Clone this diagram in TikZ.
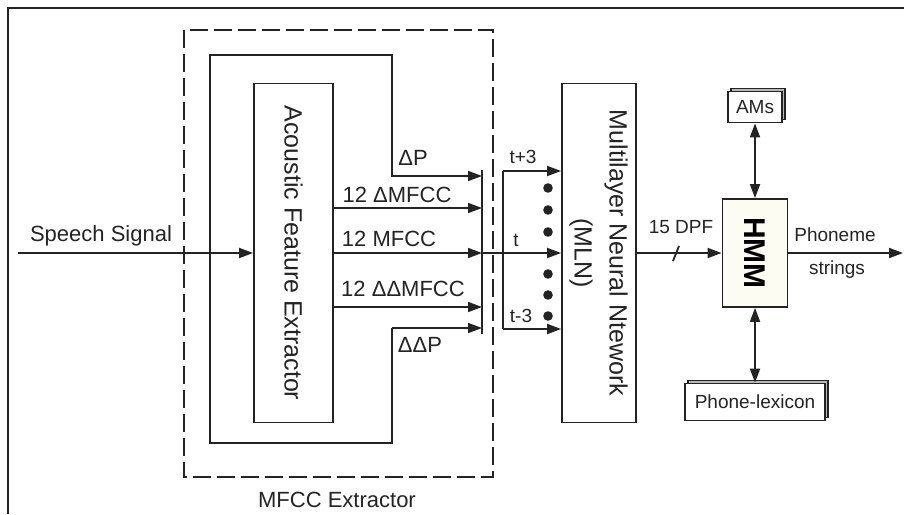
\documentclass[tikz,border=0pt]{standalone}
\usepackage{fontspec}
\setmainfont{Liberation Sans}
\usepackage{graphicx}
\usetikzlibrary{arrows.meta,shadows}
\definecolor{ink}{RGB}{35,35,35}
\definecolor{hmmfill}{RGB}{252,252,243}
\tikzset{
  arr/.style={-{Triangle[length=7pt,width=5pt]}},
  dblarr/.style={{Triangle[length=7pt,width=5pt]}-{Triangle[length=7pt,width=5pt]}},
  blk/.style={draw,inner sep=0pt},
  lbl/.style={font=\fontsize{11}{13}\selectfont,inner sep=0pt,text=ink},
  sml/.style={font=\fontsize{9.5}{11}\selectfont,inner sep=0pt,text=ink},
  box3d/.style={blk,fill=white,general shadow={draw=ink,fill=gray!55,shadow xshift=1.5pt,shadow yshift=1.5pt}},
}
\begin{document}
\begin{tikzpicture}[x=0.5pt,y=-0.5pt,line width=0.9pt,draw=ink]
\useasboundingbox (0,0) rectangle (904,514);
\draw[line width=1.2pt] (8,514) -- (8,8) -- (904,8);

\draw[line width=1.4pt,dash pattern=on 9pt off 3pt] (184,30) rectangle (493,477);
\node[lbl] (lmfcc) at (337,500) {MFCC Extractor};

\node[blk,minimum width=39.5pt,minimum height=169.5pt,font=\fontsize{12.5}{15}\selectfont,text=ink] (afe) at (293.5,253) {\rotatebox{-90}{Acoustic Feature Extractor}};
\node[blk,minimum width=37pt,minimum height=169.5pt,font=\fontsize{12.5}{17.5}\selectfont,text=ink] (mln) at (599,253) {\rotatebox{-90}{\begin{tabular}{@{}c@{}}Multilayer Neural Ntework\\(MLN)\end{tabular}}};
\node[blk,fill=hmmfill,minimum width=32.5pt,minimum height=54pt,font=\fontsize{15}{18}\selectfont\bfseries] (hmm) at (755,253) {\rotatebox{-90}{HMM}};
\node[box3d,minimum width=27pt,minimum height=15.5pt,sml] (ams) at (755,107) {AMs};
\node[box3d,minimum width=70pt,minimum height=18.5pt,sml] (lex) at (755,402) {Phone-lexicon};

\coordinate (sin) at (18,253);
\coordinate (bartop) at (482,170);
\coordinate (barbot) at (482,334);
\coordinate (dp) at (482,176);
\coordinate (dm) at (482,208);
\coordinate (mf) at (482,253);
\coordinate (ddm) at (482,307);
\coordinate (ddp) at (482,328);
\coordinate (tp) at (503,171);
\coordinate (tm) at (503,329);
\coordinate (out) at (903,253);

\draw[arr] (sin) -- (afe.west |- sin);
\node[lbl] (sp) at (101,236) {Speech Signal};

\draw (bartop) -- (barbot);
\draw[arr] (392,328) -- (392,443) -- (210,443) -- (210,55) -- (392,55) -- (392,176) -- (dp);
\draw[arr] (392,328) -- (ddp);
\draw[arr] (afe.east |- dm) -- (dm);
\draw[arr] (afe.east |- mf) -- (mf);
\draw[arr] (afe.east |- ddm) -- (ddm);
\node[lbl] (ldp) at (413,158) {ΔP};
\node[lbl] (ldm) at (397,195) {12 ΔMFCC};
\node[lbl] (lmf) at (389,239) {12 MFCC};
\node[lbl] (lddm) at (403,289) {12 ΔΔMFCC};
\node[lbl] (lddp) at (420,345) {ΔΔP};

\draw (tp) -- (tm);
\draw[arr] (tp) -- (tp -| mln.west);
\draw[arr] (mf) -- (mf -| mln.west);
\draw[arr] (tm) -- (tm -| mln.west);
\foreach \y in {188,210,232,274,295,316}
{
    \fill[ink] (548,\y) circle (2.4pt);
}
\node[sml] (ltp) at (523,157) {t+3};
\node[sml] (lt) at (516,240) {t};
\node[sml] (ltm) at (521,316) {t-3};

\draw[arr] (mln.east) -- (hmm.west);
\draw (673,261) -- (679,246);
\node[sml] (ldpf) at (681,227) {15 DPF};
\draw[dblarr] (ams) -- (hmm);
\draw[dblarr] (hmm) -- (lex);
\draw[arr] (hmm.east) -- (out);
\node[sml] (lph) at (835,235) {Phoneme};
\node[sml] (lstr) at (837,270) {strings};
\end{tikzpicture}
\end{document}
